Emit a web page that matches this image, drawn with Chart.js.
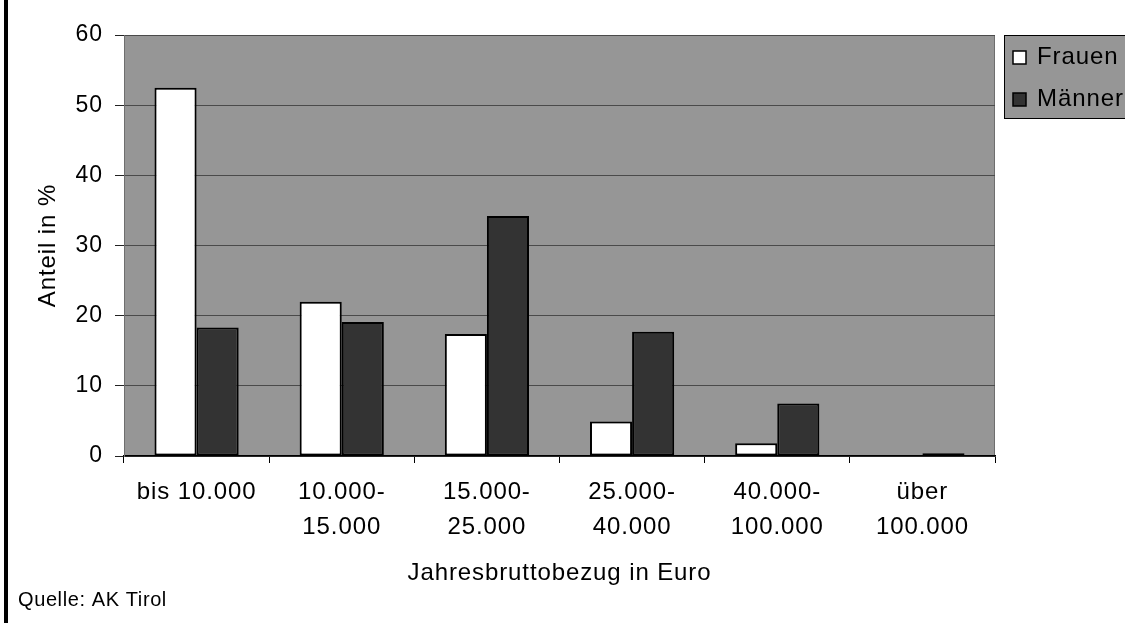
<!DOCTYPE html>
<html>
<head>
<meta charset="utf-8">
<script src="https://cdn.jsdelivr.net/npm/chart.js@4"></script>
<style>
  html, body { margin: 0; padding: 0; background: #fff; }
  #wrap { width: 1125px; height: 623px; }
</style>
</head>
<body>
<div id="wrap"><canvas id="einkommenChart" width="1125" height="623"></canvas></div>
<script>
// ==== DATA ====
const categories = [['bis 10.000'], ['10.000-', '15.000'], ['15.000-', '25.000'], ['25.000-', '40.000'], ['40.000-', '100.000'], ['über', '100.000']];
const frauen = [52.5, 22.0, 17.4, 4.9, 1.8, 0];
const maenner = [18.3, 19.1, 34.2, 17.7, 7.5, 0.4];
const seriesNames = ['Frauen', 'Männer'];
const yTicks = [0, 10, 20, 30, 40, 50, 60];

const FONT = '"Liberation Sans", Arial, sans-serif';
const ctx = document.getElementById('einkommenChart').getContext('2d');

// ==== PLUGIN: background, frame, legend, source ====
const decor = {
  id: 'decor',
  beforeDraw(chart) {
    const c = chart.ctx;
    const a = chart.chartArea;
    c.letterSpacing = '0.9px';
    c.save();
    c.fillStyle = '#969696';
    c.fillRect(a.left, a.top, a.right - a.left, a.bottom - a.top);
    c.strokeStyle = '#6e6e6e';
    c.lineWidth = 1;
    c.strokeRect(a.left + 0.5, a.top + 0.5, a.right - a.left - 1, a.bottom - a.top - 1);
    c.restore();
  },
  afterDraw(chart) {
    const c = chart.ctx;
    c.save();
    // left black border
    c.fillStyle = '#000';
    c.fillRect(4, 0, 4, 623);

    // legend box
    c.fillStyle = '#969696';
    c.fillRect(1004, 35, 125, 84);
    c.strokeStyle = '#000';
    c.lineWidth = 1;
    c.strokeRect(1004.5, 35.5, 125, 83);

    c.font = '24px ' + FONT;
    c.textBaseline = 'middle';
    chart.data.datasets.forEach((ds, i) => {
      const y = 57 + i * 42;
      c.fillStyle = ds.backgroundColor;
      c.fillRect(1013, y - 6, 13, 13);
      c.strokeStyle = '#000';
      c.lineWidth = 1.5;
      c.strokeRect(1013, y - 6, 13, 13);
      c.fillStyle = '#000';
      c.fillText(ds.label, 1037, y);
    });

    // source
    c.letterSpacing = '0.6px';
    c.font = '20px ' + FONT;
    c.fillStyle = '#000';
    c.fillText('Quelle: AK Tirol', 18, 600);
    c.restore();
  }
};

// ==== CHART ====
new Chart(ctx, {
  type: 'bar',
  data: {
    labels: categories,
    datasets: [
      { label: seriesNames[0], data: frauen, backgroundColor: '#ffffff', borderColor: '#000', borderWidth: 2, borderSkipped: false },
      { label: seriesNames[1], data: maenner, backgroundColor: '#333333', borderColor: '#000', borderWidth: 2, borderSkipped: false }
    ]
  },
  options: {
    responsive: false,
    animation: false,
    devicePixelRatio: 1,
    categoryPercentage: 0.58,
    barPercentage: 1,
    layout: { padding: { left: 0, top: 35, right: 130, bottom: 0 } },
    plugins: { legend: { display: false }, tooltip: { enabled: false } },
    scales: {
      x: {
        offset: true,
        grid: { offset: true, drawOnChartArea: false, tickLength: 7, tickColor: '#000', color: '#000' },
        border: { color: '#000', width: 1.5 },
        ticks: { color: '#000', font: { family: FONT, size: 24, lineHeight: 1.46 }, padding: 12, maxRotation: 0, autoSkip: false },
        title: { display: true, text: 'Jahresbruttobezug in Euro', color: '#000', font: { family: FONT, size: 24 }, padding: { top: 0, bottom: 35 } },
        afterFit(s) { s.height = 167; }
      },
      y: {
        min: 0,
        max: 60,
        afterBuildTicks(s) { s.ticks = yTicks.map(v => ({ value: v })); },
        grid: { color: '#4a4a4a', tickColor: '#222', tickLength: 9, lineWidth: 1 },
        border: { color: '#6e6e6e' },
        ticks: { color: '#000', font: { family: FONT, size: 23 }, padding: 12 },
        title: { display: true, text: 'Anteil in %', color: '#000', font: { family: FONT, size: 24 }, padding: { top: 34, bottom: 0 } },
        afterFit(s) { s.width = 124; }
      }
    }
  },
  plugins: [decor]
});
</script>
</body>
</html>
